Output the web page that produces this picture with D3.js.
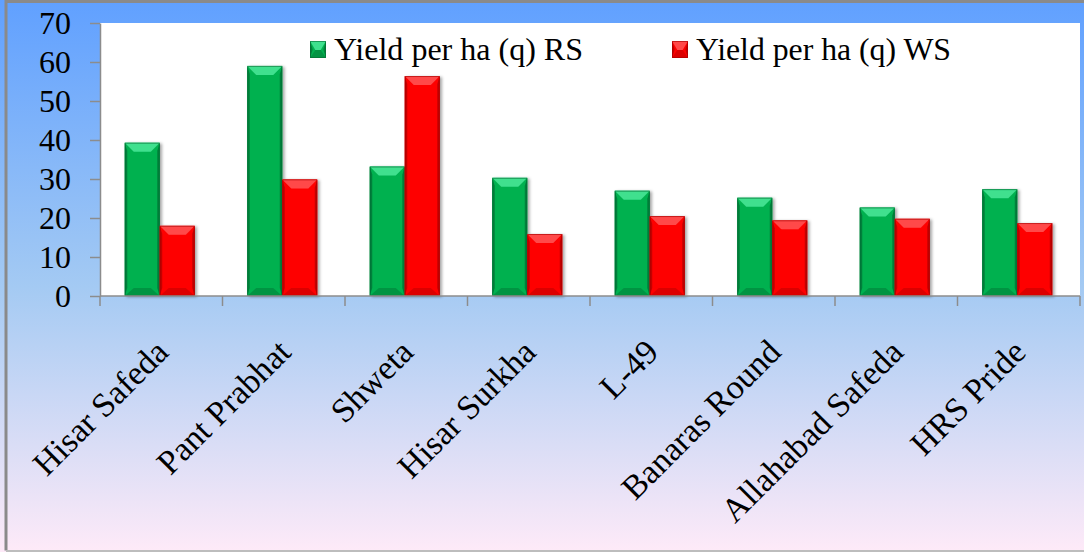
<!DOCTYPE html>
<html>
<head>
<meta charset="utf-8">
<script src="https://cdn.jsdelivr.net/npm/d3@7"></script>
<style>
  html, body { margin: 0; padding: 0; background: #fff; }
  svg { display: block; font-family: "Liberation Serif", "Times New Roman", serif; }
</style>
</head>
<body>
<svg width="1084" height="552"></svg>
<script>
const categories = ["Hisar Safeda", "Pant Prabhat", "Shweta", "Hisar Surkha", "L-49", "Banaras Round", "Allahabad Safeda", "HRS Pride"];
const seriesNames = ["Yield per ha (q) RS", "Yield per ha (q) WS"];
const yieldRS = [39.3, 59, 33.2, 30.3, 27, 25.2, 22.7, 27.4];
const yieldWS = [18, 29.9, 56.4, 15.9, 20.5, 19.4, 19.8, 18.7];
const yTicks = [0, 10, 20, 30, 40, 50, 60, 70];

const W = 1084, H = 552;
const plot = { left: 100, right: 1080, top: 23, bottom: 296 };
const serif = "'Liberation Serif', 'Times New Roman', serif";

const svg = d3.select("svg");
const defs = svg.append("defs");

// background gradient (blue top -> pink bottom)
const bg = defs.append("linearGradient").attr("id", "bg").attr("x1", 0).attr("y1", 0).attr("x2", 0).attr("y2", 1);
bg.append("stop").attr("offset", "0%").attr("stop-color", "#60a0ff");
bg.append("stop").attr("offset", "52%").attr("stop-color", "#a4caf3");
bg.append("stop").attr("offset", "100%").attr("stop-color", "#feeaf8");

const shadow = defs.append("filter").attr("id", "shadow").attr("x", "-20%").attr("y", "-10%").attr("width", "150%").attr("height", "130%");
shadow.append("feDropShadow").attr("dx", 2).attr("dy", 1).attr("stdDeviation", 1.6).attr("flood-color", "#000").attr("flood-opacity", 0.35);

svg.append("rect").attr("x", 0).attr("y", 0).attr("width", W).attr("height", H).attr("fill", "url(#bg)");
// outer frame
svg.append("path")
  .attr("d", `M6,${H - 1.5} L6,1.5 L${W},1.5`)
  .attr("fill", "none").attr("stroke", "#8a8a8a").attr("stroke-width", 3);
svg.append("line").attr("x1", 6).attr("x2", W).attr("y1", H - 1).attr("y2", H - 1)
  .attr("stroke", "#bdbdbd").attr("stroke-width", 2);

// plot area
svg.append("rect")
  .attr("x", plot.left).attr("y", plot.top)
  .attr("width", plot.right - plot.left).attr("height", plot.bottom - plot.top)
  .attr("fill", "#fff");

const x = d3.scaleBand().domain(categories).range([plot.left, plot.right]).padding(0);
const xs = d3.scaleBand().domain(seriesNames).range([0, x.bandwidth()]).paddingInner(0).paddingOuter(0.75);
const y = d3.scaleLinear().domain([0, 70]).range([plot.bottom, plot.top]);

const colors = {
  "Yield per ha (q) RS": { base: "#03b150", light: "#3fe08e", dark: "#04803b", edge: "#066b33" },
  "Yield per ha (q) WS": { base: "#fe0000", light: "#ff4a4a", dark: "#c40000", edge: "#a30000" }
};

const rows = categories.map((c, i) => ({ cat: c, values: [
  { s: seriesNames[0], v: yieldRS[i] },
  { s: seriesNames[1], v: yieldWS[i] }
]}));

function bevelBar(g, bx, by, bw, bh, col) {
  const b = Math.min(8, bh / 2);
  const inset = Math.min(9, bw / 3);
  g.append("rect").attr("x", bx).attr("y", by).attr("width", bw).attr("height", bh).attr("fill", col.base);
  // left / right edges
  g.append("path").attr("d", `M${bx},${by} L${bx + 2.5},${by + b} L${bx + 2.5},${by + bh - b} L${bx},${by + bh}Z`).attr("fill", col.dark);
  g.append("path").attr("d", `M${bx + bw},${by} L${bx + bw - 2.5},${by + b} L${bx + bw - 2.5},${by + bh - b} L${bx + bw},${by + bh}Z`).attr("fill", col.dark);
  // top bevel
  g.append("path").attr("d", `M${bx},${by} L${bx + bw},${by} L${bx + bw - inset},${by + b + 1} L${bx + inset},${by + b + 1}Z`).attr("fill", col.light);
  // bottom bevel
  g.append("path").attr("d", `M${bx},${by + bh} L${bx + bw},${by + bh} L${bx + bw - inset},${by + bh - b} L${bx + inset},${by + bh - b}Z`).attr("fill", col.dark).attr("opacity", 0.6);
  g.append("rect").attr("x", bx + 0.5).attr("y", by + 0.5).attr("width", bw - 1).attr("height", bh - 1)
    .attr("fill", "none").attr("stroke", col.edge).attr("stroke-width", 1).attr("opacity", 0.6);
}

const groups = svg.append("g").selectAll("g").data(rows).join("g")
  .attr("transform", d => `translate(${x(d.cat) - 1.5},0)`);

groups.each(function(d) {
  const g = d3.select(this);
  d.values.forEach(v => {
    const bar = g.append("g").attr("filter", "url(#shadow)");
    bevelBar(bar, xs(v.s), y(v.v), xs.bandwidth(), y(0) - y(v.v), colors[v.s]);
  });
});

// y axis
const yAxis = svg.append("g")
  .attr("transform", `translate(${plot.left},0)`)
  .call(d3.axisLeft(y).tickValues(yTicks).tickSize(10).tickPadding(19).tickSizeOuter(0));
yAxis.attr("font-family", serif);
yAxis.select(".domain").attr("stroke", "#8c8c8c").attr("stroke-width", 1.5);
yAxis.selectAll(".tick line").attr("stroke", "#8c8c8c").attr("stroke-width", 1.5);
yAxis.selectAll(".tick text").attr("font-size", 32).attr("fill", "#000");

// x axis line + boundary ticks
svg.append("line").attr("x1", plot.left).attr("x2", plot.right).attr("y1", y(0)).attr("y2", y(0))
  .attr("stroke", "#8c8c8c").attr("stroke-width", 1.5);
const bounds = categories.map(c => x(c)).concat([x.range()[1]]);
svg.append("g").selectAll("line").data(bounds).join("line")
  .attr("x1", d => d).attr("x2", d => d).attr("y1", y(0)).attr("y2", y(0) + 10)
  .attr("stroke", "#8c8c8c").attr("stroke-width", 1.5);

svg.append("g").attr("font-family", serif).selectAll("text").data(categories).join("text")
  .attr("transform", d => `translate(${x(d) + x.bandwidth() / 2 + 9},354) rotate(-45)`)
  .attr("text-anchor", "end")
  .attr("font-size", 34)
  .attr("fill", "#000")
  .text(d => d);

// legend
const legendX = [310, 672];
const legend = svg.append("g").attr("font-family", serif).selectAll("g").data(seriesNames).join("g")
  .attr("transform", (d, i) => `translate(${legendX[i]},41)`);
legend.each(function(d) {
  const g = d3.select(this);
  bevelBar(g, 0, 0, 16, 17, colors[d]);
});
legend.append("text").attr("x", 24).attr("y", 19)
  .attr("font-size", 32).attr("fill", "#000")
  .attr("textLength", (d, i) => i === 0 ? 249 : 255)
  .attr("lengthAdjust", "spacingAndGlyphs")
  .text(d => d);
</script>
</body>
</html>
